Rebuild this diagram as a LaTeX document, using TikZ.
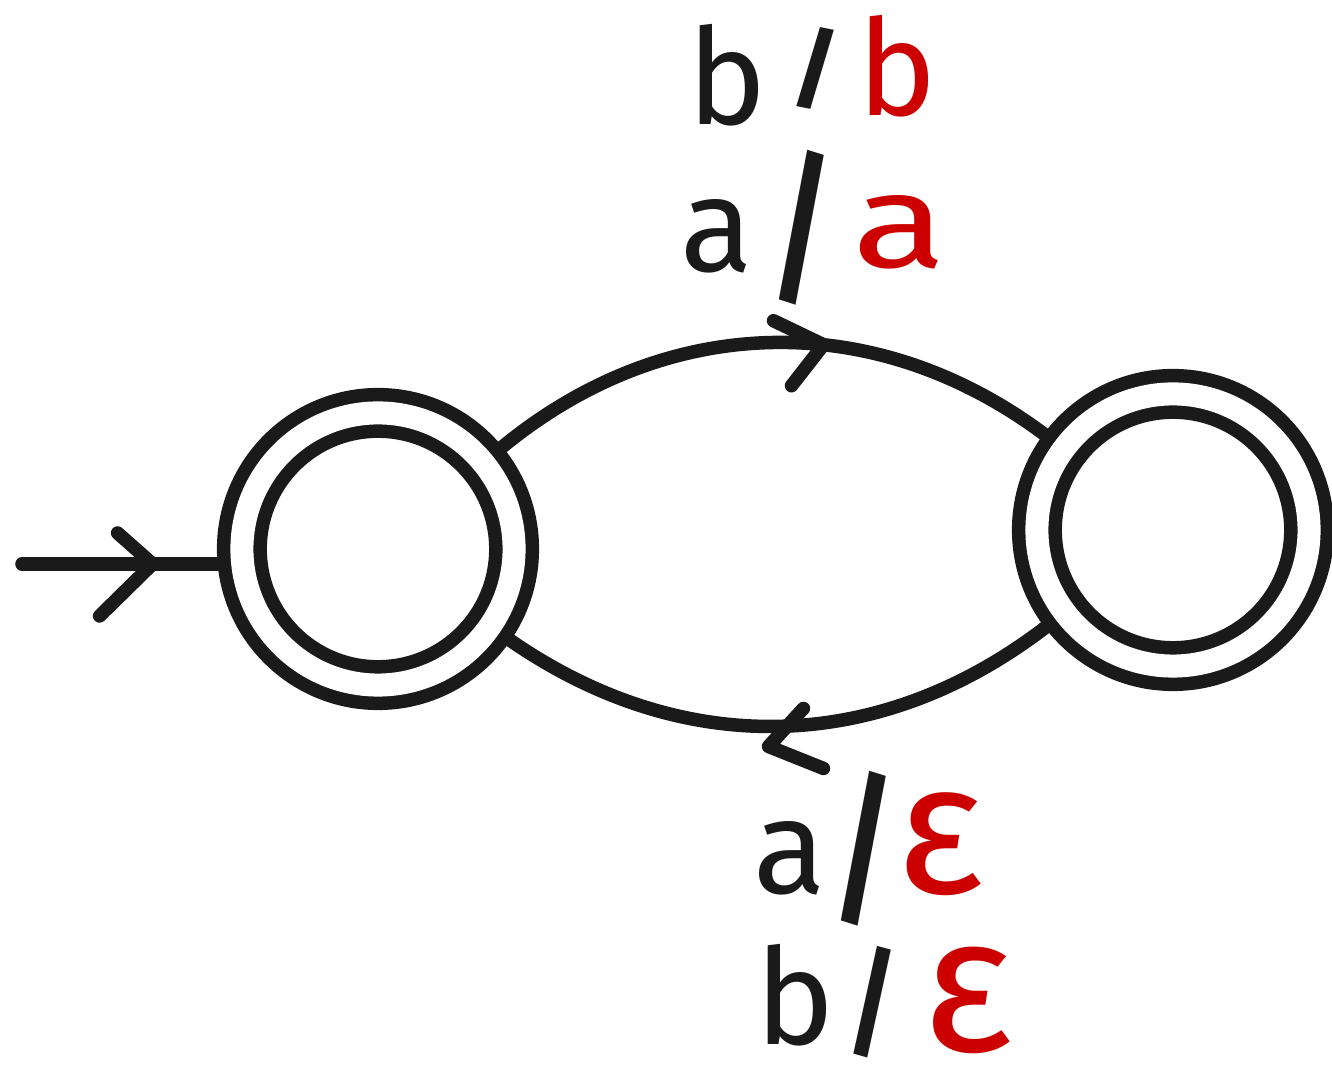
\documentclass[tikz,border=0pt]{standalone}
\usepackage{fontspec}
\usepackage{graphicx}
\setmainfont{Fira Sans}
\usetikzlibrary{decorations.markings}
\definecolor{ink}{RGB}{26,26,26}
\definecolor{inkred}{RGB}{205,0,0}
% a bold slash, squeezed sideways and stretched upwards
\newcommand\tallslash[2]{{\bfseries\scalebox{#1}[#2]{/}}}
\begin{document}
\begin{tikzpicture}[x=0.01cm,y=-0.01cm,
  line width=0.135cm, line cap=round, line join=round,
  state/.style={circle, draw=ink, double=white, double distance=0.23cm,
    minimum size=2.72cm, inner sep=0pt, outer sep=0.25cm},
  wire/.style={draw=ink},
  % open arrow head drawn on a connector: position, arm end, tip, arm end
  chevron/.style n args={4}{postaction={decorate, decoration={markings,
    mark=at position #1 with {\pgftransformresetnontranslations
      \draw[ink] #2 -- #3 -- #4;}}}},
  lbl/.style={font=\fontsize{38}{38}\selectfont, inner sep=0pt, text=ink},
  outsym/.style={lbl, text=inkred}]
\useasboundingbox (0,0) rectangle (1332,1071);

% the two accepting states
\node[state] (L) at (378,549) {};
\node[state] (R) at (1173,530) {};

% start arrow
\coordinate (start) at (22,564);
\draw[wire, chevron={0.67}{(-35,-31)}{(0,0)}{(-53,52)}] (start) -- (start -| L.west);

% transitions
\draw[wire, chevron={0.59}{(-50,-24)}{(0,0)}{(-32,41)}] (L) to[bend left=38] (R);
\draw[wire, chevron={0.52}{(35,-18)}{(0,20)}{(55,42)}] (R) to[bend left=36] (L);

% label of the upper transition
\node[lbl] (b1) at (727,75) {b};
\node[lbl] (s1) at (816,68) {\tallslash{0.75}{0.66}};
\node[outsym] (o1) at (897,66) {b};
\node[lbl] (a1) at (717,236) {a};
\node[lbl] (s2) at (802,228) {\tallslash{0.9}{1.25}};
\node[outsym] (o2) at (900,232) {\scalebox{1.3}[1]{a}};

% label of the lower transition
\node[lbl] (a2) at (790,858) {a};
\node[lbl] (s3) at (864,849) {\tallslash{0.9}{1.25}};
\node[outsym] (o3) at (940,844) {\scalebox{1.4}{ε}};
\node[lbl] (b2) at (795,995) {b};
\node[lbl] (s4) at (873,1002) {\tallslash{0.75}{0.9}};
\node[outsym] (o4) at (968,1000) {\scalebox{1.45}{ε}};
\end{tikzpicture}
\end{document}
